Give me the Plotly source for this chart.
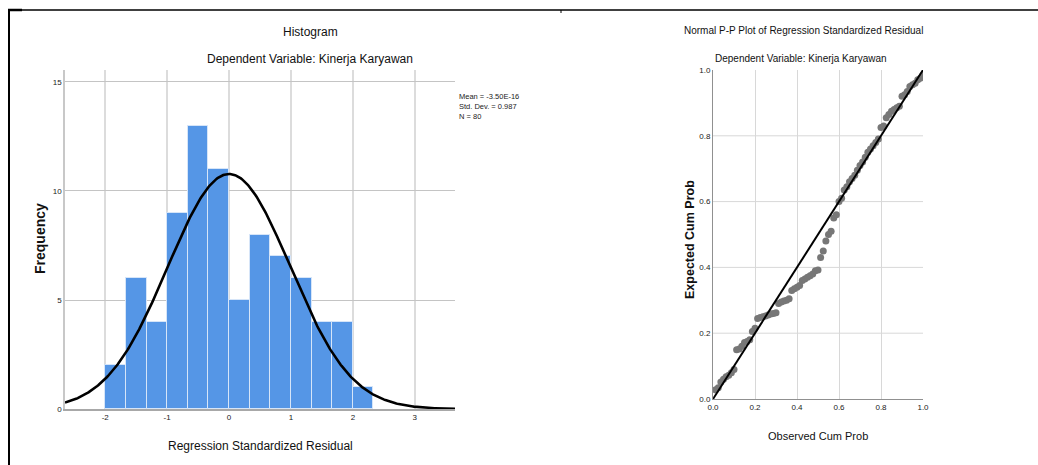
import numpy as np
import plotly.graph_objects as go

# ---------------- data ----------------
bin_left = [-2.0, -1.6667, -1.3333, -1.0, -0.6667, -0.3333, 0.0, 0.3333, 0.6667, 1.0, 1.3333, 1.6667, 2.0]
bin_counts = [2, 6, 4, 9, 13, 11, 5, 8, 7, 6, 4, 4, 1]
bin_width = 1 / 3
res_mean = -3.50e-16
res_sd = 0.987
n_obs = 80

hist_xticks = [-2, -1, 0, 1, 2, 3]
hist_xticklabels = ["-2", "-1", "0", "1", "2", "3"]
hist_yticks = [0, 5, 10, 15]

observed_cum_prob = [
    0.0125, 0.025, 0.0375, 0.05, 0.0625, 0.075, 0.0875, 0.1, 0.1125, 0.125,
    0.1375, 0.15, 0.1625, 0.175, 0.1875, 0.2, 0.2125, 0.225, 0.2375, 0.25,
    0.2625, 0.275, 0.2875, 0.3, 0.3125, 0.325, 0.3375, 0.35, 0.3625, 0.375,
    0.3875, 0.4, 0.4125, 0.425, 0.4375, 0.45, 0.4625, 0.475, 0.4875, 0.5,
    0.5125, 0.525, 0.5375, 0.55, 0.5625, 0.575, 0.5875, 0.6, 0.6125, 0.625,
    0.6375, 0.65, 0.6625, 0.675, 0.6875, 0.7, 0.7125, 0.725, 0.7375, 0.75,
    0.7625, 0.775, 0.7875, 0.8, 0.8125, 0.825, 0.8375, 0.85, 0.8625, 0.875,
    0.8875, 0.9, 0.9125, 0.925, 0.9375, 0.95, 0.9625, 0.975, 0.9875, 1.0,
]
expected_cum_prob = [
    0.028, 0.034, 0.052, 0.060, 0.068, 0.072, 0.080, 0.090, 0.150, 0.152,
    0.160, 0.172, 0.175, 0.180, 0.205, 0.215, 0.245, 0.248, 0.250, 0.252,
    0.255, 0.258, 0.260, 0.262, 0.290, 0.295, 0.298, 0.300, 0.305, 0.330,
    0.335, 0.340, 0.345, 0.360, 0.365, 0.370, 0.375, 0.380, 0.390, 0.392,
    0.430, 0.450, 0.480, 0.500, 0.510, 0.550, 0.560, 0.600, 0.610, 0.635,
    0.645, 0.660, 0.670, 0.680, 0.695, 0.710, 0.720, 0.735, 0.750, 0.760,
    0.770, 0.780, 0.790, 0.825, 0.830, 0.855, 0.865, 0.875, 0.880, 0.885,
    0.890, 0.920, 0.925, 0.935, 0.950, 0.955, 0.960, 0.970, 0.975, 0.985,
]
ref_line = [0.0, 1.0]
pp_ticks = [0.0, 0.2, 0.4, 0.6, 0.8, 1.0]
pp_grid = [0.2, 0.4, 0.6, 0.8]

# ---------------- helpers ----------------
W, H = 1038, 465
def px(x):
    return x / W
def py(y):
    return 1 - y / H

FONT = "Liberation Sans, Arial, sans-serif"

fig = go.Figure()

fig.add_trace(go.Bar(
    x=bin_left, y=bin_counts, width=bin_width, offset=0,
    marker=dict(color="#5596E6", line=dict(color="#d6e5f8", width=1)),
    xaxis="x", yaxis="y", showlegend=False, hoverinfo="skip",
))

# normal curve from displayed mean / sd / N
xc = np.linspace(-2.65, 3.65, 400)
yc = n_obs * bin_width / (res_sd * np.sqrt(2 * np.pi)) * np.exp(-0.5 * ((xc - res_mean) / res_sd) ** 2)
fig.add_trace(go.Scatter(
    x=xc, y=yc, mode="lines", line=dict(color="black", width=2.6),
    xaxis="x", yaxis="y", showlegend=False, hoverinfo="skip",
))

fig.add_trace(go.Scatter(
    x=observed_cum_prob, y=expected_cum_prob, mode="markers",
    marker=dict(color="#777777", size=7),
    xaxis="x2", yaxis="y2", showlegend=False, hoverinfo="skip",
))
fig.add_trace(go.Scatter(
    x=ref_line, y=ref_line, mode="lines", line=dict(color="black", width=2),
    xaxis="x2", yaxis="y2", showlegend=False, hoverinfo="skip",
))

tickfont = dict(family=FONT, size=8, color="#222")

shapes = []
for g in pp_grid:
    shapes.append(dict(type="line", xref="x2", yref="y2", x0=0, x1=1, y0=g, y1=g,
                       line=dict(color="#d8d8d8", width=1), layer="below"))
shapes += [
    dict(type="line", xref="paper", yref="paper", x0=px(8), x1=1.0, y0=py(10), y1=py(10),
         line=dict(color="black", width=1.5)),
    dict(type="line", xref="paper", yref="paper", x0=px(8), x1=px(22), y0=py(10), y1=py(10),
         line=dict(color="black", width=2.5)),
    dict(type="line", xref="paper", yref="paper", x0=px(9), x1=px(9), y0=py(10), y1=0,
         line=dict(color="black", width=2)),
    dict(type="line", xref="paper", yref="paper", x0=px(561), x1=px(561), y0=py(10), y1=py(13),
         line=dict(color="black", width=1)),
]

def ann(text, x, y, size, **kw):
    d = dict(text=text, x=px(x), y=py(y), xref="paper", yref="paper", showarrow=False,
             font=dict(family=FONT, size=size, color="#111"), xanchor="center", yanchor="middle")
    d.update(kw)
    return d

annotations = [
    ann("Histogram", 310, 32, 12),
    ann("Dependent Variable: Kinerja Karyawan", 310, 59, 12),
    ann("Regression Standardized Residual", 260, 446, 12),
    ann("Frequency", 40, 239, 14, textangle=-90,
        font=dict(family=FONT, size=14, color="#111", weight="bold")),
    ann("Mean = -3.50E-16<br>Std. Dev. = 0.987<br>N = 80", 457, 90, 7.5, align="left",
        xanchor="left", yanchor="top", font=dict(family=FONT, size=7.5, color="#222")),
    ann("Normal P-P Plot of Regression Standardized Residual", 803, 31, 10),
    ann("Dependent Variable: Kinerja Karyawan", 801, 58, 10),
    ann("Observed Cum Prob", 818, 436, 11),
    ann("Expected Cum Prob", 690, 240, 12.5, textangle=-90,
        font=dict(family=FONT, size=12.5, color="#111", weight="bold")),
]

axis_common = dict(automargin=False, zeroline=False, ticks="", fixedrange=True, tickfont=tickfont)

fig.update_layout(
    template="none",
    width=W, height=H, margin=dict(l=0, r=0, t=0, b=0, pad=0, autoexpand=False),
    paper_bgcolor="white", plot_bgcolor="white",
    bargap=0, showlegend=False,
    xaxis=dict(domain=[px(65), px(455)], range=[-2.65, 3.65], tickvals=hist_xticks,
               ticktext=hist_xticklabels,
               showgrid=True, gridcolor="#dcdcdc", gridwidth=1.5,
               showline=True, linecolor="#a8a8a8", linewidth=1.5, anchor="y", **axis_common),
    yaxis=dict(domain=[py(409), py(70)], range=[0, 15.55], tickvals=hist_yticks,
               showgrid=True, gridcolor="#c4c4c4",
               showline=True, linecolor="#c8c8c8", linewidth=1.5, anchor="x", **axis_common),
    xaxis2=dict(domain=[px(713), px(923)], range=[0, 1], tickvals=pp_ticks, tickformat=".1f",
                showgrid=True, gridcolor="#d8d8d8",
                showline=True, linecolor="#909090", linewidth=1, anchor="y2", **axis_common),
    yaxis2=dict(domain=[py(399), py(70)], range=[0, 1], tickvals=pp_ticks, tickformat=".1f",
                showgrid=False,
                showline=True, linecolor="#909090", linewidth=1, anchor="x2", **axis_common),
    shapes=shapes,
    annotations=annotations,
)

fig.write_html(
    "out.html",
    config={"displayModeBar": False},
    post_script="document.body.style.margin='0';document.body.style.overflow='hidden';",
)
